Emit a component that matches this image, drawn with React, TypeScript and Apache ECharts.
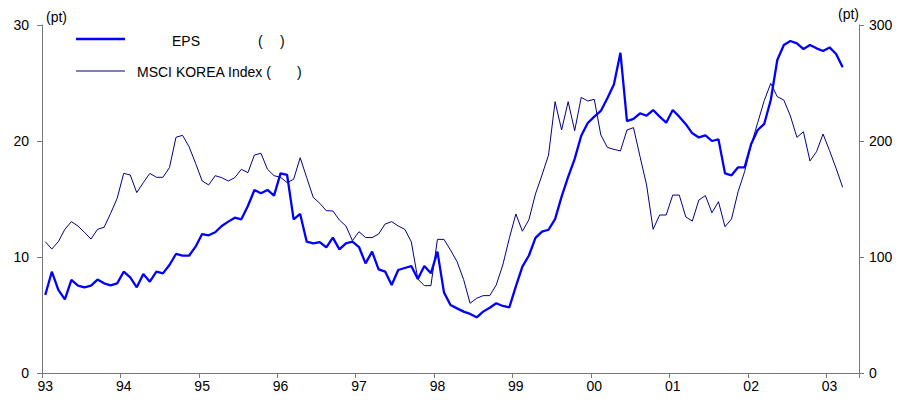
import React, { useEffect, useRef } from "react";
import * as echarts from "echarts";

// Years shown on the x axis (monthly data, Jan 1993 - Mar 2003)
const yearLabels = ["93", "94", "95", "96", "97", "98", "99", "00", "01", "02", "03"];
const axisMonths = 125; // axis runs Jan 93 .. May 03

// EPS (left axis, pt)
const epsValues = [
  6.72, 8.73, 7.16, 6.35, 8.02, 7.53, 7.39, 7.53, 8.05, 7.73, 7.56, 7.73,
  8.73, 8.25, 7.39, 8.53, 7.87, 8.73, 8.59, 9.31, 10.26, 10.11, 10.11, 10.89,
  11.98, 11.87, 12.13, 12.67, 13.05, 13.39, 13.25, 14.4, 15.78, 15.49, 15.78, 15.29,
  17.21, 17.07, 13.25, 13.71, 11.32, 11.18, 11.29, 10.83, 11.67, 10.66, 11.18, 11.32,
  10.86, 9.45, 10.46, 8.94, 8.74, 7.59, 8.88, 9.05, 9.22, 8.1, 9.22, 8.59,
  10.46, 6.95, 5.86, 5.57, 5.29, 5.09, 4.8, 5.29, 5.63, 6.01, 5.78, 5.65,
  7.47, 9.17, 10.13, 11.65, 12.18, 12.35, 13.26, 15.2, 16.9, 18.46, 20.45, 21.55,
  22.1, 22.59, 23.68, 24.88, 27.6, 21.72, 21.9, 22.39, 22.18, 22.67, 22.1, 21.58,
  22.67, 22.1, 21.45, 20.66, 20.31, 20.49, 20.0, 20.14, 17.21, 17.04, 17.73, 17.73,
  19.74, 20.95, 21.47, 23.53, 26.98, 28.28, 28.62, 28.42, 27.93, 28.28, 27.99, 27.76,
  28.07, 27.5, 26.35,
];

// MSCI KOREA Index (right axis, pt)
const msciValues = [
  113.2, 106.9, 113.2, 123.9, 130.5, 126.7, 121.3, 115.5, 123.9, 125.6, 137.6, 150.6,
  172.1, 170.7, 155.5, 164.1, 172.1, 168.7, 168.7, 177.0, 203.2, 204.9, 195.1, 180.7,
  165.6, 162.1, 170.1, 168.4, 165.5, 168.4, 175.6, 172.7, 187.9, 189.4, 175.6, 170.1,
  168.7, 164.1, 167.0, 185.6, 168.4, 151.4, 146.3, 139.9, 139.7, 131.9, 126.7, 114.1,
  121.8, 116.8, 116.7, 119.8, 128.4, 130.5, 126.7, 123.9, 113.2, 81.0, 75.3, 75.3,
  115.2, 115.2, 106.0, 96.0, 80.7, 60.1, 64.4, 66.7, 66.7, 75.9, 93.1, 116.1,
  137.1, 122.2, 132.2, 154.3, 170.7, 187.9, 233.9, 209.5, 233.9, 208.9, 237.6, 234.5,
  235.9, 205.2, 194.5, 192.8, 191.4, 209.5, 211.5, 186.5, 162.1, 123.9, 136.2, 136.2,
  153.4, 153.4, 134.5, 131.0, 149.1, 152.9, 138.2, 147.7, 126.1, 132.8, 156.3, 173.6,
  196.6, 215.8, 234.8, 249.7, 238.2, 235.3, 221.6, 203.2, 208.0, 182.8, 190.8, 206.0,
  191.6, 176.4, 160.1,
];

const leftTicks = { min: 0, max: 30, interval: 10 };
const rightTicks = { min: 0, max: 300, interval: 100 };

const FONT = "'Liberation Sans', Arial, sans-serif";
const AXIS_COLOR = "#777777";

function buildMonths(): string[] {
  const out: string[] = [];
  for (const y of yearLabels) {
    for (let m = 1; m <= 12; m++) out.push(y + "/" + (m < 10 ? "0" + m : String(m)));
  }
  return out.slice(0, axisMonths);
}

export default function App() {
  const ref = useRef<HTMLDivElement>(null);

  useEffect(() => {
    document.body.style.margin = "0";
    if (!ref.current) return;
    const chart = echarts.init(ref.current, undefined, { renderer: "svg" });
    const months = buildMonths();

    chart.setOption({
      animation: false,
      textStyle: { fontFamily: FONT },
      grid: { left: 42, right: 44, top: 25, bottom: 37, containLabel: false },
      xAxis: {
        type: "category",
        data: months,
        boundaryGap: true,
        axisLine: { lineStyle: { color: AXIS_COLOR, width: 1 } },
        axisTick: {
          show: true,
          length: 5,
          interval: (i: number) => i % 12 === 0,
          lineStyle: { color: AXIS_COLOR },
        },
        axisLabel: {
          interval: (i: number) => i % 12 === 0,
          formatter: (v: string) => v.split("/")[0],
          color: "#000",
          fontSize: 14,
          fontFamily: FONT,
          margin: 6,
        },
        splitLine: { show: false },
      },
      yAxis: [
        {
          type: "value",
          position: "left",
          ...leftTicks,
          name: "(pt)",
          nameLocation: "end",
          nameGap: 1,
          nameTextStyle: {
            color: "#000",
            fontSize: 14,
            fontFamily: FONT,
            align: "left",
            verticalAlign: "bottom",
            padding: [0, 0, 0, 4],
          },
          axisLine: { show: true, lineStyle: { color: AXIS_COLOR, width: 1 } },
          axisTick: { show: true, length: 5, lineStyle: { color: AXIS_COLOR } },
          axisLabel: { color: "#000", fontSize: 14, fontFamily: FONT, margin: 13 },
          splitLine: { show: false },
        },
        {
          type: "value",
          position: "right",
          ...rightTicks,
          name: "(pt)",
          nameLocation: "end",
          nameGap: 4,
          nameTextStyle: {
            color: "#000",
            fontSize: 14,
            fontFamily: FONT,
            align: "right",
            verticalAlign: "bottom",
          },
          axisLine: { show: true, lineStyle: { color: AXIS_COLOR, width: 1 } },
          axisTick: { show: true, length: 5, lineStyle: { color: AXIS_COLOR } },
          axisLabel: { color: "#000", fontSize: 14, fontFamily: FONT, margin: 10 },
          splitLine: { show: false },
        },
      ],
      series: [
        {
          name: "EPS",
          type: "line",
          yAxisIndex: 0,
          data: epsValues,
          showSymbol: false,
          symbol: "none",
          lineStyle: { color: "#0000FF", width: 2.3 },
          itemStyle: { color: "#0000FF" },
          z: 3,
        },
        {
          name: "MSCI KOREA Index",
          type: "line",
          yAxisIndex: 1,
          data: msciValues,
          showSymbol: false,
          symbol: "none",
          lineStyle: { color: "#000080", width: 1 },
          itemStyle: { color: "#000080" },
          z: 2,
        },
      ],
      graphic: [
        { type: "line", shape: { x1: 76, y1: 39, x2: 125, y2: 39 }, style: { stroke: "#0000FF", lineWidth: 2.3 } },
        { type: "text", x: 172, y: 41, style: { text: "EPS", fill: "#000", font: "14px " + FONT, textVerticalAlign: "middle" } },
        { type: "text", x: 258, y: 41, style: { text: "(", fill: "#000", font: "14px " + FONT, textVerticalAlign: "middle" } },
        { type: "text", x: 280, y: 41, style: { text: ")", fill: "#000", font: "14px " + FONT, textVerticalAlign: "middle" } },
        { type: "line", shape: { x1: 76, y1: 71, x2: 125, y2: 71 }, style: { stroke: "#000080", lineWidth: 1 } },
        { type: "text", x: 137, y: 72, style: { text: "MSCI KOREA Index (", fill: "#000", font: "14px " + FONT, textVerticalAlign: "middle" } },
        { type: "text", x: 297, y: 72, style: { text: ")", fill: "#000", font: "14px " + FONT, textVerticalAlign: "middle" } },
      ],
    });

    return () => chart.dispose();
  }, []);

  return <div ref={ref} style={{ width: 903, height: 410 }} />;
}
